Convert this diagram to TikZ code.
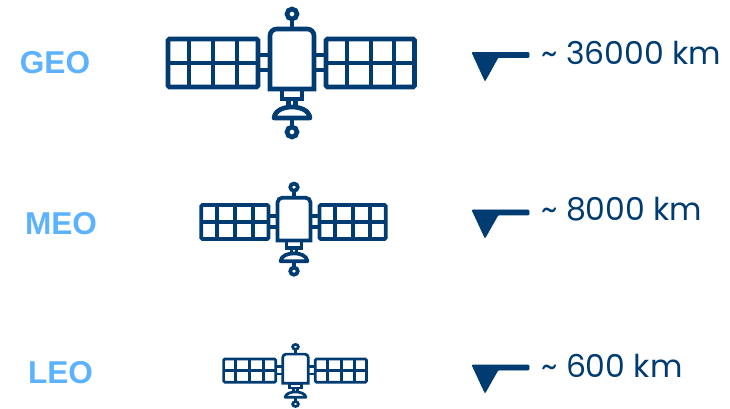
\documentclass[tikz,border=0pt]{standalone}
\usepackage{fontspec}
\setmainfont{Liberation Sans}
\newfontfamily\distfont{Poppins}
\definecolor{satblue}{HTML}{003C71}
\definecolor{orbitblue}{HTML}{5CB2FF}

\tikzset{
  satellite/.pic={
    % body, panels and links
    \draw (-22,19) [rounded corners=#1] -- (-22,-41) -- (22,-41) [sharp corners] -- (22,19) -- cycle;
    \draw[rounded corners=1] (-124,-31) rectangle (-34,17);
    \draw[rounded corners=1] (34,-31) rectangle (122.5,17);
    \draw (-124,-7) -- (-34,-7) (34,-7) -- (122.5,-7);
    \draw (-103,-31) -- (-103,17) (-79,-31) -- (-79,17) (-55,-31) -- (-55,17);
    \draw (55,-31) -- (55,17) (79,-31) -- (79,17) (102,-31) -- (102,17);
    \draw (-34,-15) -- (-22,-15) (-34,0) -- (-22,0);
    \draw (34,-15) -- (22,-15) (34,0) -- (22,0);
    % antenna and dish
    \draw (0,-56) circle (5);
    \draw (0,-51) -- (0,-41);
    \draw (-10,19) rectangle (10,29);
    \draw (-3.5,29) -- (-3.5,38) (3.5,29) -- (3.5,38);
    \draw[line join=round] (-18,48) .. controls (-17,40) and (-8,37) .. (0,37)
      .. controls (8,37) and (17,40) .. (18,48) -- cycle;
    \draw (0,48) -- (0,57);
    \draw (0,62) circle (5);
  }
}

\begin{document}
\begin{tikzpicture}[x=0.75pt,y=-0.75pt,
  sat style/.style={draw=satblue,color=satblue},
  orbit node/.style={font=\bfseries\fontsize{23.7}{28}\selectfont,text=orbitblue,inner sep=0pt},
  dist node/.style={anchor=base west,font=\distfont\fontsize{23.6}{28}\selectfont,text=satblue,inner sep=0pt},
  marker/.style={fill=satblue,draw=satblue,line width=0.5pt,line join=round,rounded corners=0.6}]

  \useasboundingbox (0,0) rectangle (730,409);

  \node[orbit node] (geo) at (55,63) {GEO};
  \node[orbit node] (meo) at (61,224) {MEO};
  \node[orbit node] (leo) at (60.5,373) {LEO};

  \pic[sat style,line width=3.5pt] (geosat) at (292,70) {satellite=5pt};
  \pic[sat style,line width=2.8pt,xscale=0.748,yscale=0.712] (meosat) at (294,227) {satellite=3.5pt};
  \pic[sat style,line width=2pt,xscale=0.58,yscale=0.485] (leosat) at (295.5,374) {satellite=2.5pt};

  \draw[marker] (472,52.5) -- (529,52.5) -- (529,57.5) -- (498,57.5) -- (485,81) -- cycle;
  \draw[marker] (472,210) -- (529,210) -- (529,215) -- (498,215) -- (485,238) -- cycle;
  \draw[marker] (472,365) -- (529,365) -- (529,370) -- (498,370) -- (485,393) -- cycle;

  \node[dist node] (geodist) at (541,65) {\textasciitilde{} 36000 km};
  \node[dist node] (meodist) at (541,221) {\textasciitilde{} 8000 km};
  \node[dist node] (leodist) at (541,377) {\textasciitilde{} 600 km};

\end{tikzpicture}
\end{document}
